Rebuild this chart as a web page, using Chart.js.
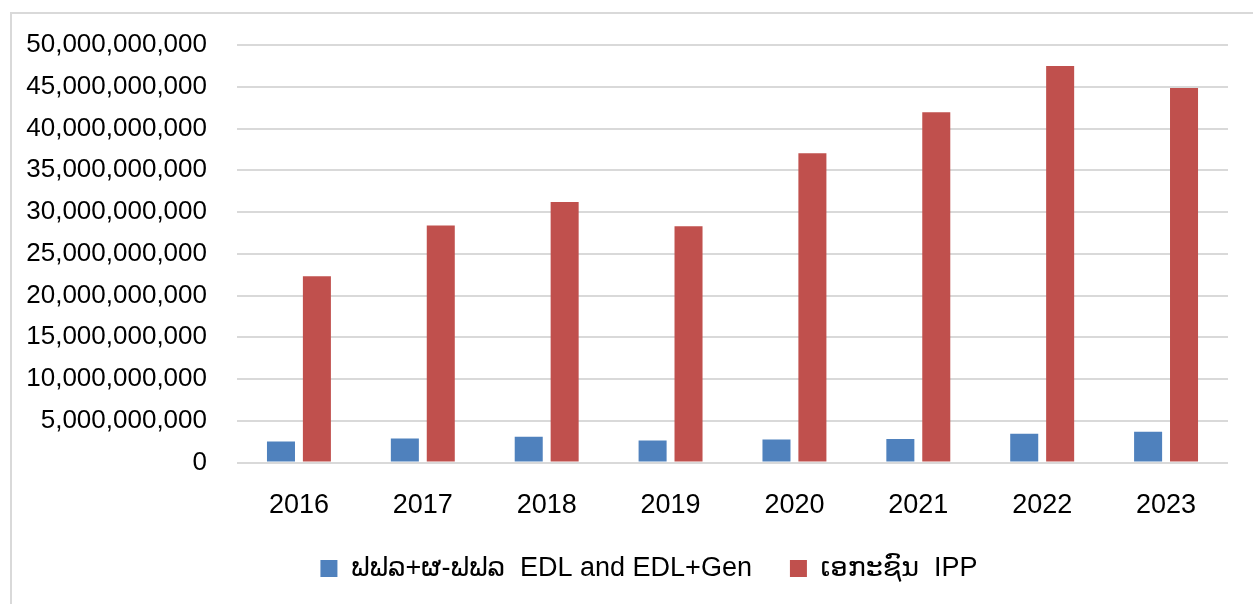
<!DOCTYPE html>
<html>
<head>
<meta charset="utf-8">
<script src="https://cdn.jsdelivr.net/npm/chart.js@4"></script>
<style>
  html, body { margin: 0; padding: 0; background: #fff; overflow: hidden; }
  #wrap {
    position: absolute; left: 10px; top: 12px;
    width: 1250px; height: 600px;
    border: 2px solid #d9d9d9; box-sizing: border-box;
  }
  canvas { display: block; }
</style>
</head>
<body>
<div id="wrap"><canvas id="chart" width="1246" height="596"></canvas></div>
<script>
// ປີ
const years = ['2016', '2017', '2018', '2019', '2020', '2021', '2022', '2023'];

// ຟຟລ+ຜ-ຟຟລ  EDL and EDL+Gen
const edlValues = [2.52e9, 2.90e9, 3.10e9, 2.65e9, 2.76e9, 2.82e9, 3.45e9, 3.70e9];
// ເອກະຊົນ  IPP
const ippValues = [22.3e9, 28.4e9, 31.2e9, 28.3e9, 37.05e9, 41.95e9, 47.5e9, 44.85e9];

const seriesNames = ['ຟຟລ+ຜ-ຟຟລ  EDL and EDL+Gen', 'ເອກະຊົນ  IPP'];

const fontFamily = 'Arial, "Liberation Sans", "DejaVu Sans", sans-serif';
const gridColor = '#d9d9d9';

// legenda: víc místa mezi položkami, ale bez zvětšení výšky
const legendTweak = {
    id: 'legendTweak',
    beforeLayout(chart) {
        const lg = chart.legend;
        if (!lg || lg._tweaked) return;
        const fit = lg.fit;
        lg.fit = function () {
            fit.call(this);
            if (this.isHorizontal()) this.height = 61;
        };
        lg._tweaked = true;
    },
    afterLayout(chart) {
        const lg = chart.legend;
        lg.left += 29;
        lg.right += 29;
        lg.top = 503;
        lg.bottom = chart.height;
        lg.height = lg.bottom - lg.top;
    }
};

const ctx = document.getElementById('chart').getContext('2d');
new Chart(ctx, {
    type: 'bar',
    data: {
        labels: years,
        datasets: [
            {
                label: seriesNames[0],
                data: edlValues,
                backgroundColor: '#4f81bd',
                categoryPercentage: 0.58,
                barPercentage: 0.78
            },
            {
                label: seriesNames[1],
                data: ippValues,
                backgroundColor: '#c0504d',
                categoryPercentage: 0.58,
                barPercentage: 0.78
            }
        ]
    },
    plugins: [legendTweak],
    options: {
        responsive: false,
        animation: false,
        layout: { padding: { top: 31, right: 30, bottom: 8, left: 0 } },
        plugins: {
            tooltip: { enabled: false },
            legend: {
                position: 'bottom',
                labels: {
                    color: '#000',
                    font: { family: fontFamily, size: 27 },
                    boxWidth: 17,
                    boxHeight: 17,
                    padding: 38
                }
            }
        },
        scales: {
            x: {
                grid: { display: false },
                border: { display: false },
                ticks: {
                    color: '#000',
                    font: { family: fontFamily, size: 27 },
                    padding: 19
                }
            },
            y: {
                min: 0,
                max: 50e9,
                afterFit: s => { s.width = 225; },
                grid: {
                    color: gridColor,
                    lineWidth: 2,
                    drawTicks: true,
                    tickLength: 30,
                    tickColor: 'rgba(0,0,0,0)'
                },
                border: { display: false },
                ticks: {
                    stepSize: 5e9,
                    color: '#000',
                    font: { family: fontFamily, size: 26 },
                    padding: 0,
                    callback: v => v.toLocaleString('en-US')
                }
            }
        }
    }
});
</script>
</body>
</html>
